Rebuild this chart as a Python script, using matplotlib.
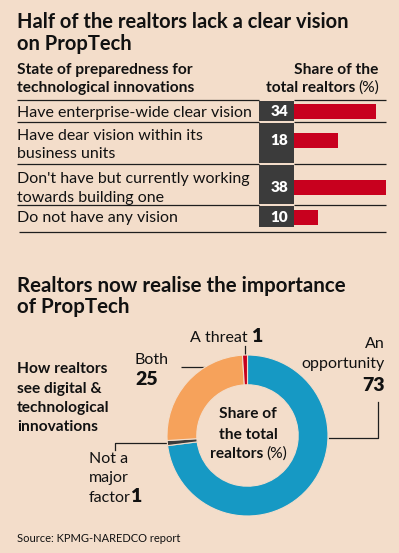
import matplotlib
matplotlib.use("Agg")
import matplotlib.pyplot as plt
from matplotlib.patches import Rectangle

# --- data -------------------------------------------------------------
vision_labels = [
    "Have enterprise-wide clear vision",
    "Have dear vision within its\nbusiness units",
    "Don't have but currently working\ntowards building one",
    "Do not have any vision",
]
vision_share = [34, 18, 38, 10]

view_labels = ["An opportunity", "Not a major factor", "Both", "A threat"]
view_share = [73, 1, 25, 1]

# --- style ------------------------------------------------------------
BG = "#F3DDCA"
RED = "#C8001E"
DARK = "#3B3B3B"
BLUE = "#1699C4"
ORANGE = "#F6A25B"
LINE = "#1E1E1E"
plt.rcParams["font.family"] = ["Lato", "DejaVu Sans"]

W, H = 399, 553
fig = plt.figure(figsize=(W / 100, H / 100), dpi=100)
fig.patch.set_facecolor(BG)

ax = fig.add_axes([0, 0, 1, 1])
ax.set_xlim(0, W)
ax.set_ylim(H, 0)
ax.axis("off")


def txt(x, y, s, size=11, weight="normal", ha="left", color="#111111"):
    ax.text(x, y, s, fontsize=size, fontweight=weight, ha=ha, va="baseline",
            color=color)


def hline(x0, x1, y, lw=0.9):
    ax.plot([x0, x1], [y, y], color=LINE, lw=lw, solid_capstyle="butt")


# --- top chart --------------------------------------------------------
TITLE = 14.5
HEAD = 11.2
BODY = 11.5
NUM = 14
txt(17, 28, "Half of the realtors lack a clear vision", TITLE, "bold")
txt(17, 50, "on PropTech", TITLE, "bold")
txt(17, 74, "State of preparedness for", HEAD, "bold")
txt(17, 92, "technological innovations", HEAD, "bold")
txt(378, 74, "Share of the", HEAD, "bold", ha="right")
txt(355, 92, "total realtors", HEAD, "bold", ha="right")
txt(379, 92, "(%)", HEAD, ha="right")

row_top = [100, 122, 164, 205]
row_bot = [122, 164, 205, 228]
row_mid = [111.5, 140.5, 187, 217]
text_base = [[117], [140, 158], [183, 202], [222]]
num_base = [116, 145, 192, 222]

for i, lab in enumerate(vision_labels):
    for j, line in enumerate(lab.split("\n")):
        txt(17, text_base[i][j], line, BODY)
    ax.add_patch(Rectangle((259, row_top[i] + 0.8), 35, row_bot[i] - row_top[i] - 1.6,
                           color=DARK, lw=0))
    txt(288, num_base[i], str(vision_share[i]), 11, "heavy", ha="right", color="white")

for y in row_top:
    hline(17, 259, y)
    hline(294, 386, y)
hline(19, 386, 232)

bx = fig.add_axes([294 / W, (H - 228) / H, 92 / W, 128 / H])
bx.barh(row_mid, vision_share, height=15, color=RED, left=0)
bx.set_xlim(0, 38)
bx.set_ylim(228, 100)
bx.axis("off")

# --- bottom chart -----------------------------------------------------
txt(17, 292, "Realtors now realise the importance", 14.8, "bold")
txt(17, 313, "of PropTech", 14.8, "bold")

for k, s in enumerate(["How realtors", "see digital &", "technological", "innovations"]):
    txt(17, [373, 393, 412, 431][k], s, HEAD, "bold")

px = fig.add_axes([167 / W, (H - 516) / H, 161 / W, 161 / H])
px.pie(view_share, colors=[BLUE, DARK, ORANGE, RED], startangle=90, counterclock=False,
       radius=1, wedgeprops=dict(width=0.37, edgecolor=BG, linewidth=0.8))
px.set_xlim(-1, 1)
px.set_ylim(-1, 1)
px.set_aspect("equal")
px.axis("off")

# center text
txt(248, 418, "Share of", HEAD, "bold", ha="center")
txt(248, 439, "the total", HEAD, "bold", ha="center")
txt(263, 458, "realtors", HEAD, "bold", ha="right")
txt(266, 458, "(%)", HEAD)

# slice labels
txt(248, 342, "A threat", BODY, ha="right")
txt(251, 342, str(view_share[3]), NUM, "heavy")
ax.plot([245, 245], [346, 356], color=LINE, lw=0.9)

txt(135, 364, "Both", BODY)
txt(135, 385, str(view_share[2]), NUM, "heavy")
hline(181, 207, 367)

txt(385, 348, "An", BODY, ha="right")
txt(385, 368, "opportunity", BODY, ha="right")
txt(385, 391, str(view_share[0]), NUM, "heavy", ha="right")
ax.plot([378, 378, 329], [402, 438, 438], color=LINE, lw=0.9)

txt(89, 463, "Not a", BODY)
txt(89, 482, "major", BODY)
txt(89, 502, "factor", BODY)
txt(130, 502, str(view_share[1]), NUM, "heavy")
ax.plot([115, 115, 168], [450, 443, 443], color=LINE, lw=0.9)

txt(17, 542, "Source: KPMG-NAREDCO report", 8)

fig.savefig("out.png", dpi=100, facecolor=BG)
